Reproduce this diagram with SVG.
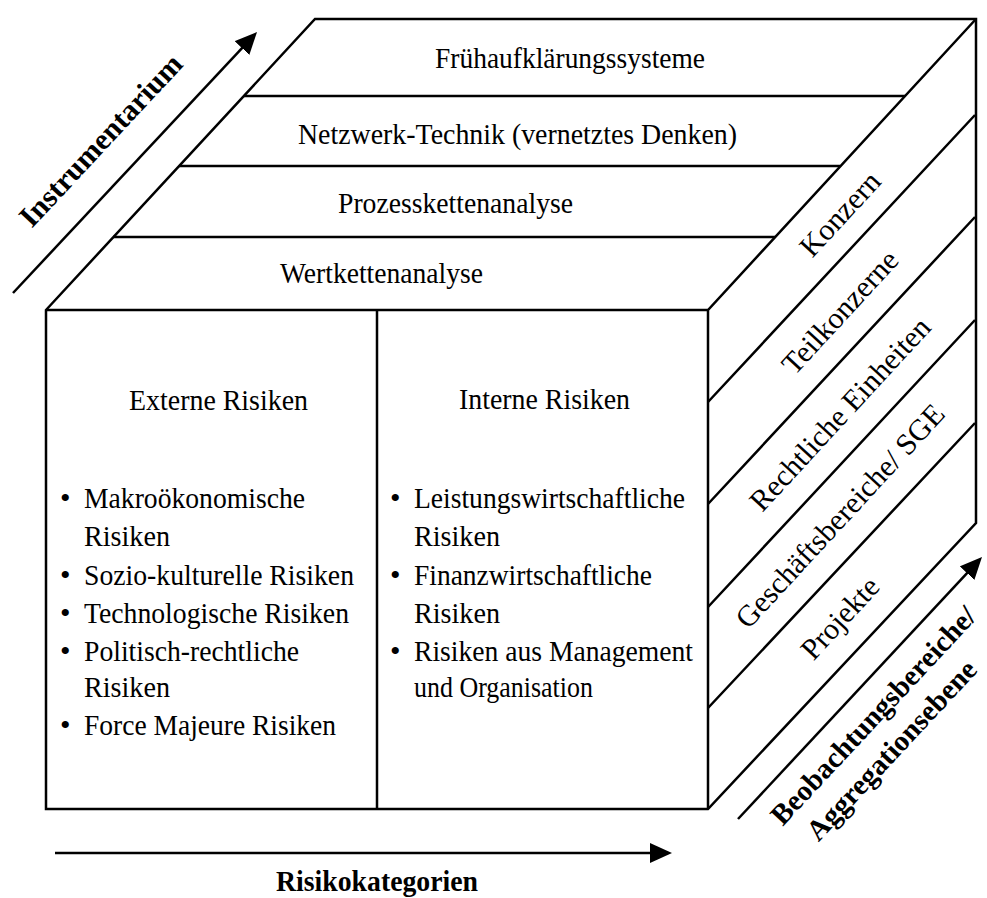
<svg xmlns="http://www.w3.org/2000/svg" width="987" height="898" viewBox="0 0 987 898">
  <defs>
    <marker id="arrowhead" viewBox="0 0 22 20" refX="12" refY="10" markerWidth="22" markerHeight="20" markerUnits="userSpaceOnUse" orient="auto">
      <path d="M0,0 L22,10 L0,20 z" fill="#000"/>
    </marker>
    <style>
      .edge{fill:none;stroke:#000;stroke-width:2.5;stroke-linejoin:miter}
      .axis{fill:none;stroke:#000;stroke-width:2.5}
      .lbl{font-family:"Liberation Serif","Times New Roman",serif;font-size:30px;fill:#000}
      .c{text-anchor:middle}
      .b{font-weight:bold}
    </style>
  </defs>

  <rect width="987" height="898" fill="#fff"/>

  <!-- cube outline -->
  <g id="cube">
    <path class="edge" d="M46,310 L315,19 L976,19 L976,523 L708,809 L46,809 Z"/>
    <path class="edge" d="M46,310 L708,310 L976,19 M708,310 L708,809 M377,310 L377,809"/>
    <!-- top face band separators -->
    <path class="edge" d="M244,96 L905,96 M179,166 L840,166 M113,237 L775,237"/>
    <!-- right face band separators -->
    <path class="edge" d="M708,402 L975,115 M708,504 L975,217 M708,607 L975,320 M708,708 L975,423"/>
  </g>

  <!-- top face: instruments -->
  <g id="fruehaufklaerung" class="lbl c">
    <text x="570" y="68" textLength="270" lengthAdjust="spacingAndGlyphs">Frühaufklärungssysteme</text>
  </g>
  <g id="netzwerk-technik" class="lbl c">
    <text x="517.5" y="144" textLength="439" lengthAdjust="spacingAndGlyphs">Netzwerk-Technik (vernetztes Denken)</text>
  </g>
  <g id="prozesskettenanalyse" class="lbl c">
    <text x="455.5" y="213" textLength="235" lengthAdjust="spacingAndGlyphs">Prozesskettenanalyse</text>
  </g>
  <g id="wertkettenanalyse" class="lbl c">
    <text x="381.5" y="283" textLength="203" lengthAdjust="spacingAndGlyphs">Wertkettenanalyse</text>
  </g>

  <!-- front face: risk categories -->
  <g id="externe-risiken" class="lbl">
    <text class="c" x="218.5" y="410" textLength="179" lengthAdjust="spacingAndGlyphs">Externe Risiken</text>
    <text x="60" y="508">•</text>
    <text x="84" y="508" textLength="221" lengthAdjust="spacingAndGlyphs">Makroökonomische</text>
    <text x="84" y="546" textLength="86" lengthAdjust="spacingAndGlyphs">Risiken</text>
    <text x="60" y="585">•</text>
    <text x="84" y="585" textLength="270" lengthAdjust="spacingAndGlyphs">Sozio-kulturelle Risiken</text>
    <text x="60" y="623">•</text>
    <text x="84" y="623" textLength="265" lengthAdjust="spacingAndGlyphs">Technologische Risiken</text>
    <text x="60" y="661">•</text>
    <text x="84" y="661" textLength="215" lengthAdjust="spacingAndGlyphs">Politisch-rechtliche</text>
    <text x="84" y="697" textLength="86" lengthAdjust="spacingAndGlyphs">Risiken</text>
    <text x="60" y="735">•</text>
    <text x="84" y="735" textLength="252" lengthAdjust="spacingAndGlyphs">Force Majeure Risiken</text>
  </g>
  <g id="interne-risiken" class="lbl">
    <text class="c" x="544.5" y="409" textLength="171" lengthAdjust="spacingAndGlyphs">Interne Risiken</text>
    <text x="390" y="508">•</text>
    <text x="414" y="508" textLength="271" lengthAdjust="spacingAndGlyphs">Leistungswirtschaftliche</text>
    <text x="414" y="546" textLength="86" lengthAdjust="spacingAndGlyphs">Risiken</text>
    <text x="390" y="585">•</text>
    <text x="414" y="585" textLength="238" lengthAdjust="spacingAndGlyphs">Finanzwirtschaftliche</text>
    <text x="414" y="623" textLength="86" lengthAdjust="spacingAndGlyphs">Risiken</text>
    <text x="390" y="661">•</text>
    <text x="414" y="661" textLength="279" lengthAdjust="spacingAndGlyphs">Risiken aus Management</text>
    <text x="414" y="697" textLength="179" lengthAdjust="spacingAndGlyphs">und Organisation</text>
  </g>

  <!-- right face: observation levels -->
  <g id="konzern" class="lbl c" transform="translate(840,214) rotate(-47.3)">
    <text x="0" y="10">Konzern</text>
  </g>
  <g id="teilkonzerne" class="lbl c" transform="translate(840,312) rotate(-47.3)">
    <text x="0" y="10">Teilkonzerne</text>
  </g>
  <g id="rechtliche-einheiten" class="lbl c" transform="translate(840,414) rotate(-47.3)">
    <text x="0" y="10">Rechtliche Einheiten</text>
  </g>
  <g id="geschaeftsbereiche" class="lbl c" transform="translate(840,516) rotate(-47.3)">
    <text x="0" y="10">Geschäftsbereiche/ SGE</text>
  </g>
  <g id="projekte" class="lbl c" transform="translate(840,618) rotate(-47.3)">
    <text x="0" y="10">Projekte</text>
  </g>

  <!-- dimension axes -->
  <g id="connectors">
    <line class="axis" x1="13" y1="293" x2="250.2" y2="39.3" marker-end="url(#arrowhead)"/>
    <line class="axis" x1="55" y1="853" x2="662" y2="853" marker-end="url(#arrowhead)"/>
    <line class="axis" x1="738" y1="819" x2="975.2" y2="564.3" marker-end="url(#arrowhead)"/>
  </g>

  <g id="axis-instrumentarium" class="lbl c b" transform="translate(13,293) rotate(-47)">
    <text x="171.5" y="-30">Instrumentarium</text>
  </g>
  <g id="axis-risikokategorien" class="lbl c b">
    <text x="377" y="891" textLength="202" lengthAdjust="spacingAndGlyphs">Risikokategorien</text>
  </g>
  <g id="axis-beobachtungsbereiche" class="lbl c b" transform="translate(738,819) rotate(-47)" style="font-size:29px">
    <text x="168" y="38">Beobachtungsbereiche/</text>
    <text x="155" y="75">Aggregationsebene</text>
  </g>
</svg>
